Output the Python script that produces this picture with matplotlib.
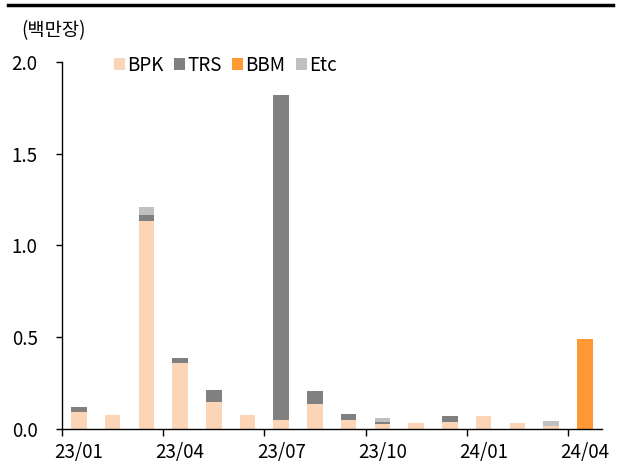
import numpy as np
import matplotlib.pyplot as plt
from matplotlib.lines import Line2D

plt.rcParams['font.family'] = ['Noto Sans CJK KR', 'DejaVu Sans']

months = ['23/01', '23/02', '23/03', '23/04', '23/05', '23/06', '23/07', '23/08',
          '23/09', '23/10', '23/11', '23/12', '24/01', '24/02', '24/03', '24/04']
bpk = [0.09, 0.074, 1.13, 0.36, 0.145, 0.072, 0.048, 0.135,
       0.045, 0.025, 0.028, 0.035, 0.07, 0.028, 0.015, 0.0]
trs = [0.025, 0.0, 0.035, 0.025, 0.065, 0.0, 1.77, 0.07,
       0.035, 0.01, 0.0, 0.035, 0.0, 0.0, 0.0, 0.0]
bbm = [0, 0, 0, 0, 0, 0, 0, 0, 0, 0, 0, 0, 0, 0, 0, 0.49]
etc = [0.0, 0.0, 0.045, 0.0, 0.0, 0.0, 0.0, 0.0,
       0.0, 0.025, 0.0, 0.0, 0.0, 0.0, 0.025, 0.0]

series = [('BPK', bpk, '#FBD5B5'), ('TRS', trs, '#808080'),
          ('BBM', bbm, '#FF9933'), ('Etc', etc, '#C0C0C0')]

fig = plt.figure(figsize=(6.21, 4.68), dpi=100)
ax = fig.add_axes([0.0998, 0.0844, 0.8692, 0.7831])

x = np.arange(len(months))
bottom = np.zeros(len(months))
for name, vals, color in series:
    vals = np.array(vals, dtype=float)
    ax.bar(x, vals, width=0.46, bottom=bottom, color=color, label=name, linewidth=0)
    bottom += vals

ax.set_xlim(-0.5, len(months) - 0.5)
ax.set_ylim(0, 2.0)
ax.set_yticks([0, 0.5, 1.0, 1.5, 2.0])
ax.set_yticklabels(['0.0', '0.5', '1.0', '1.5', '2.0'], fontsize=13.5)

# tick marks between categories, labels under every third month
ax.set_xticks(np.arange(-0.5, len(months) - 1, 3))
ax.set_xticklabels([])
ax.set_xticks(x[::3], minor=True)
ax.set_xticklabels([months[i] for i in x[::3]], minor=True, fontsize=13.5)
ax.tick_params(axis='x', which='major', direction='out', length=5, width=1)
ax.tick_params(axis='x', which='minor', length=0, pad=10)
ax.tick_params(axis='y', direction='out', length=4, width=1, pad=13.5)

for s in ['top', 'right']:
    ax.spines[s].set_visible(False)
for s in ['left', 'bottom']:
    ax.spines[s].set_linewidth(1)

ax.legend(loc='upper left', bbox_to_anchor=(0.082, 1.04), ncol=4, frameon=False,
          fontsize=13.5, handlelength=0.6, handleheight=0.6, handletextpad=0.12,
          columnspacing=0.55, borderaxespad=0)

fig.text(0.035, 0.935, '(백만장)', fontsize=13.5, va='center', ha='left')
fig.add_artist(Line2D([0.013, 0.987], [0.989, 0.989], color='black', linewidth=2.5,
                      transform=fig.transFigure))

fig.savefig('out.png', dpi=100)
